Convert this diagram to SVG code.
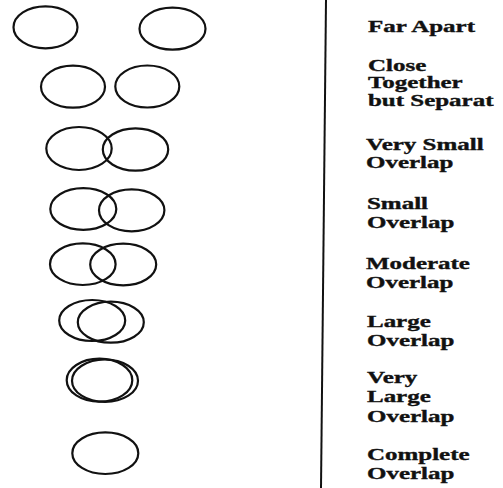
<svg xmlns="http://www.w3.org/2000/svg" width="503" height="488" viewBox="0 0 503 488">
<style>
ellipse{fill:none;stroke:#111;stroke-width:2.2}
.t{font-family:"Liberation Serif","Times New Roman",serif;font-weight:bold;font-size:16px;fill:#111;stroke:#111;stroke-width:0.35}
.div{stroke:#111;stroke-width:2;fill:none}
</style>
<rect width="503" height="488" fill="#fff"/>
<g id="connectors">
<line class="div" x1="326" y1="0" x2="321" y2="488"/>
</g>
<g id="far-apart">
<ellipse cx="45.5" cy="27.3" rx="32" ry="21"/>
<ellipse cx="172.5" cy="28.7" rx="33" ry="21"/>
<text class="t" transform="translate(368,32.3) scale(1.56,1)">Far Apart</text>
</g>
<g id="close-together">
<ellipse cx="73" cy="86.7" rx="32" ry="21"/>
<ellipse cx="147.3" cy="86.5" rx="32" ry="21"/>
<text class="t" transform="translate(368,70.7) scale(1.56,1)">Close</text>
<text class="t" transform="translate(368,88.3) scale(1.56,1)">Together</text>
<text class="t" transform="translate(368,106) scale(1.56,1)">but Separat</text>
</g>
<g id="very-small-overlap">
<ellipse cx="79" cy="148.5" rx="32.7" ry="21.5"/>
<ellipse cx="135.5" cy="149.5" rx="32.7" ry="21.2"/>
<text class="t" transform="translate(366,150) scale(1.56,1)">Very Small</text>
<text class="t" transform="translate(366,168.3) scale(1.56,1)">Overlap</text>
</g>
<g id="small-overlap">
<ellipse cx="83.3" cy="209" rx="33" ry="20.8"/>
<ellipse cx="131.7" cy="210.3" rx="32.7" ry="21"/>
<text class="t" transform="translate(367,209) scale(1.56,1)">Small</text>
<text class="t" transform="translate(367,228.3) scale(1.56,1)">Overlap</text>
</g>
<g id="moderate-overlap">
<ellipse cx="82.8" cy="264.2" rx="32.8" ry="20.8"/>
<ellipse cx="123.2" cy="264.5" rx="33" ry="20.8"/>
<text class="t" transform="translate(366,269.3) scale(1.56,1)">Moderate</text>
<text class="t" transform="translate(366,288.3) scale(1.56,1)">Overlap</text>
</g>
<g id="large-overlap">
<ellipse cx="92.2" cy="320.5" rx="33" ry="20.5"/>
<ellipse cx="110.8" cy="322.2" rx="33" ry="20.5"/>
<text class="t" transform="translate(367,326.7) scale(1.56,1)">Large</text>
<text class="t" transform="translate(367,346) scale(1.56,1)">Overlap</text>
</g>
<g id="very-large-overlap">
<ellipse cx="99.5" cy="380.2" rx="32.8" ry="21.5"/>
<ellipse cx="105" cy="380.7" rx="33" ry="21.2"/>
<text class="t" transform="translate(367,382.7) scale(1.56,1)">Very</text>
<text class="t" transform="translate(367,401.7) scale(1.56,1)">Large</text>
<text class="t" transform="translate(367,421.7) scale(1.56,1)">Overlap</text>
</g>
<g id="complete-overlap">
<ellipse cx="105.3" cy="453.2" rx="33" ry="20.8"/>
<text class="t" transform="translate(367,460) scale(1.56,1)">Complete</text>
<text class="t" transform="translate(367,479.3) scale(1.56,1)">Overlap</text>
</g>
</svg>
